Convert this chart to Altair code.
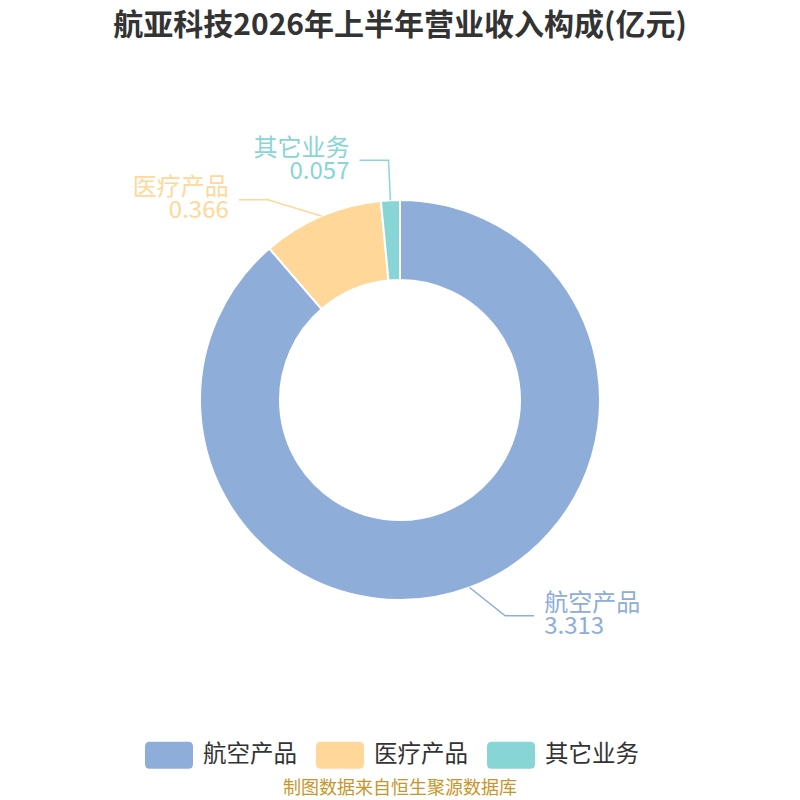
import altair as alt
import pandas as pd
import numpy as np

# ---- data ----
categories = ["航空产品", "医疗产品", "其它业务"]
values = [3.313, 0.366, 0.057]
value_labels = ["3.313", "0.366", "0.057"]
colors = ["#8eadd9", "#ffd899", "#88d5d6"]
title_text = "航亚科技2026年上半年营业收入构成(亿元)"
source_text = "制图数据来自恒生聚源数据库"

# ---- layout ----
W = H = 784
CX, CY = W / 2, H / 2
R_OUT, R_IN = 200, 120
R_ELBOW = 240
HSEG = 29
GAP = 10
angle_nudge = {"航空产品": -5.6, "医疗产品": -10.3, "其它业务": 0.0}
FONT = "Noto Sans CJK SC"

df = pd.DataFrame({"cat": categories, "value": values, "label": value_labels,
                   "order": list(range(len(categories))), "col": colors})

total = df["value"].sum()
mid_frac = (df["value"].cumsum() - df["value"] / 2) / total
mid = mid_frac * 2 * np.pi
nud = np.deg2rad(df["cat"].map(angle_nudge))
sx = CX + R_OUT * np.sin(mid)
sy = CY - R_OUT * np.cos(mid)
ex = CX + R_ELBOW * np.sin(mid + nud)
ey = CY - R_ELBOW * np.cos(mid + nud)
right = np.sin(mid) >= 0
hx = np.where(right, ex + HSEG, ex - HSEG)
df["tx"] = np.where(right, hx + GAP, hx - GAP)
df["ty"] = ey
df["side"] = np.where(right, "r", "l")

lines = []
for i, c in enumerate(categories):
    for k, (x, y) in enumerate([(sx[i], sy[i]), (ex[i], ey[i]), (hx[i], ey[i])]):
        lines.append({"cat": c, "k": k, "x": x, "y": y, "col": colors[i]})
ldf = pd.DataFrame(lines)

rounded = ("M-0.8,-0.5625 L0.8,-0.5625 Q1,-0.5625 1,-0.36 L1,0.36 Q1,0.5625 0.8,0.5625 "
           "L-0.8,0.5625 Q-1,0.5625 -1,0.36 L-1,-0.36 Q-1,-0.5625 -0.8,-0.5625 Z")

arc = alt.Chart(df).mark_arc(innerRadius=R_IN, outerRadius=R_OUT, stroke="white",
                             strokeWidth=2).encode(
    theta=alt.Theta("value:Q", stack=True),
    order=alt.Order("order:Q"),
    color=alt.Color("cat:N", scale=alt.Scale(domain=categories, range=colors),
                    sort=categories,
                    legend=alt.Legend(orient="none", legendX=137, legendY=723,
                                      direction="horizontal", title=None,
                                      symbolType=rounded, symbolSize=2304,
                                      symbolStrokeWidth=0, symbolOpacity=1,
                                      labelFontSize=23.5, labelFont=FONT,
                                      labelColor="#333333", labelOffset=10,
                                      columnPadding=19, labelLimit=300)),
)

leader = alt.Chart(ldf).mark_line(strokeWidth=1.5).encode(
    x=alt.X("x:Q", scale=None, axis=None),
    y=alt.Y("y:Q", scale=None, axis=None),
    detail="cat:N",
    order="k:Q",
    stroke=alt.Color("col:N", scale=None),
)

def label_layer(side, align):
    base = alt.Chart(df).transform_filter(alt.datum.side == side)
    name = base.mark_text(align=align, baseline="middle", fontSize=24, font=FONT, dy=-11.5).encode(
        x=alt.X("tx:Q", scale=None, axis=None),
        y=alt.Y("ty:Q", scale=None, axis=None),
        text="cat:N",
        color=alt.Color("col:N", scale=None),
    )
    val = base.mark_text(align=align, baseline="middle", fontSize=24, font=FONT, dy=11.5).encode(
        x=alt.X("tx:Q", scale=None, axis=None),
        y=alt.Y("ty:Q", scale=None, axis=None),
        text="label:N",
        color=alt.Color("col:N", scale=None),
    )
    return name + val

title = alt.Chart(pd.DataFrame({"t": [title_text]})).mark_text(
    fontSize=30, font=FONT, fontWeight="bold", color="#333333", baseline="middle", align="center"
).encode(x=alt.value(CX), y=alt.value(18), text="t:N")

source = alt.Chart(pd.DataFrame({"t": [source_text]})).mark_text(
    fontSize=18, font=FONT, color="#c8952a", baseline="middle", align="center"
).encode(x=alt.value(CX), y=alt.value(781), text="t:N")

chart = alt.layer(arc, leader, label_layer("r", "left"), label_layer("l", "right"),
                  title, source).properties(
    width=W, height=H,
    autosize=alt.AutoSizeParams(type="none"),
    padding={"left": 0, "top": 0, "right": 0, "bottom": 20},
).configure_view(stroke=None)

chart.save("out.html", embed_options={"renderer": "svg", "actions": False})
